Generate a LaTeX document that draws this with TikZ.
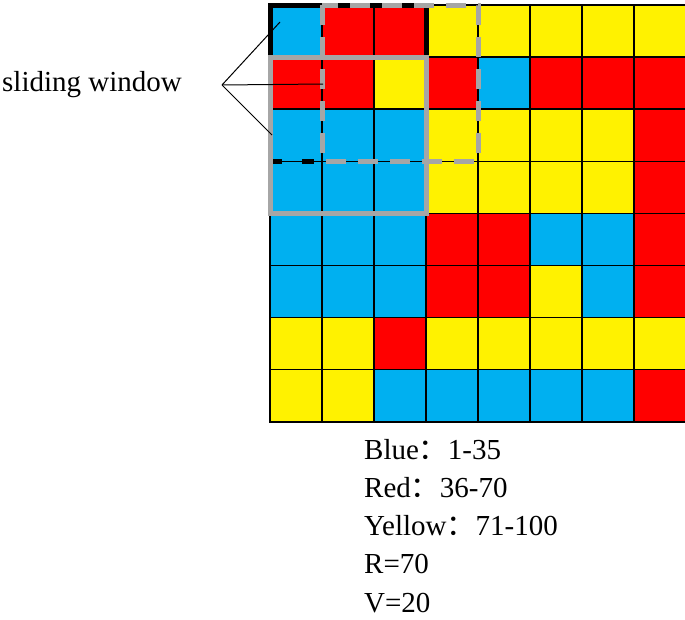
\documentclass[tikz,border=0pt]{standalone}
\usepackage{fontspec}
\setmainfont{Liberation Serif}
\newfontfamily\cjk{Noto Sans CJK SC}
\begin{document}
\begin{tikzpicture}[x=1pt,y=-1pt,
  cellB/.style={fill={rgb,255:red,0;green,176;blue,240}},
  cellR/.style={fill=red},
  cellY/.style={fill=yellow},
  lbl/.style={font=\fontsize{29}{34}\selectfont, inner sep=0pt, anchor=west},
  gwin/.style={draw={rgb,255:red,166;green,166;blue,166}, line width=5pt},
  bwin/.style={draw=black, line width=5pt},
  lead/.style={draw=black, line width=1pt}]
\useasboundingbox (0,0) rectangle (685,619);
\foreach \r/\row in {0/{B,R,R,Y,Y,Y,Y,Y},1/{R,R,Y,R,B,R,R,R},2/{B,B,B,Y,Y,Y,Y,R},3/{B,B,B,Y,Y,Y,Y,R},4/{B,B,B,R,R,B,B,R},5/{B,B,B,R,R,Y,B,R},6/{Y,Y,R,Y,Y,Y,Y,Y},7/{Y,Y,B,B,B,B,B,R}}{
  \foreach \ch [count=\c from 0] in \row {
    \path[cell\ch,draw=black,line width=1.5pt] (270+\c*52,5+\r*52.1) rectangle ++(52,52.1);
  }}
\draw[bwin] (270,162) -- (270,5) -- (426,5) -- (426,162);
\draw[bwin,dash pattern=on 12pt off 20pt] (270,161) -- (426,161);
\draw[gwin] (270,57) rectangle (426,213);
\draw[gwin,dash pattern=on 20pt off 12pt] (322,5) rectangle (478,161);
\node[lbl] (sw) at (2,85) {sliding window};
\coordinate (a) at (280,22);
\coordinate (b) at (323,84);
\coordinate (c) at (272,135);
\coordinate (o) at (222,85);
\draw[lead] (o) -- (a); \draw[lead] (o) -- (b); \draw[lead] (o) -- (c);
\node[lbl] (l1) at (364,450) {Blue{\cjk ：}1-35};
\node[lbl] (l2) at (364,488) {Red{\cjk ：}36-70};
\node[lbl] (l3) at (364,526) {Yellow{\cjk ：}71-100};
\node[lbl] (l4) at (364,564) {R=70};
\node[lbl] (l5) at (364,603) {V=20};
\end{tikzpicture}
\end{document}
